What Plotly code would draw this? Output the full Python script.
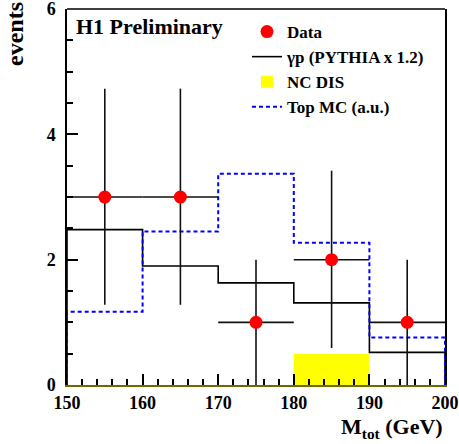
import plotly.graph_objects as go

# ---- data ----
bin_edges = [150, 160, 170, 180, 190, 200]
bin_centers = [155, 165, 175, 185, 195]
data_y = [3, 3, 1, 2, 1]
data_err_up = [1.73, 1.73, 1.0, 1.42, 1.0]
data_err_dn = [1.72, 1.72, 1.0, 1.41, 1.0]
data_xerr = [5, 5, 5, 5, 5]
gp_pythia = [2.48, 1.90, 1.63, 1.31, 0.52]
nc_dis = [0.0, 0.0, 0.0, 0.5, 0.0]
top_mc = [1.17, 2.45, 3.37, 2.27, 0.76]
x_tickvals = [150, 160, 170, 180, 190, 200]
x_ticktext = ["150", "160", "170", "180", "190", "200"]
y_tickvals = [0, 2, 4, 6]
y_ticktext = ["0", "2", "4", "6"]

FONT = "Liberation Serif"

def step(vals):
    xs = [bin_edges[0]] + bin_edges[:-1] + [bin_edges[-1], bin_edges[-1]]
    ys = [0] + list(vals) + [vals[-1], 0]
    return xs, ys

fig = go.Figure()

fig.add_trace(go.Bar(
    x=bin_centers, y=nc_dis, width=[10] * 5,
    marker=dict(color="#ffff00", line=dict(width=0)),
    name="NC DIS", legendrank=3,
))

gx, gy = step(gp_pythia)
fig.add_trace(go.Scatter(
    x=gx, y=gy, mode="lines", line=dict(color="black", width=1.6, shape="hv"),
    name="γp (PYTHIA x 1.2)", legendrank=2,
))

tx, ty = step(top_mc)
fig.add_trace(go.Scatter(
    x=tx, y=ty, mode="lines", line=dict(color="#0000ff", width=2, shape="hv", dash="4px,3px"),
    name="Top MC (a.u.)", legendrank=4,
))

fig.add_trace(go.Scatter(
    x=bin_centers, y=data_y, mode="markers",
    marker=dict(color="#ff0000", size=13, line=dict(width=0)),
    error_x=dict(type="data", array=data_xerr, color="#111111", thickness=1.6, width=0),
    error_y=dict(type="data", array=data_err_up, arrayminus=data_err_dn, symmetric=False,
                 color="#111111", thickness=1.6, width=0),
    name="Data", legendrank=1,
))

tickfont = dict(family=FONT, size=18, color="black", weight="bold")

fig.update_layout(
    width=459, height=444,
    margin=dict(l=67, r=14, t=9, b=59),
    plot_bgcolor="white", paper_bgcolor="white",
    barmode="overlay",
    font=dict(family=FONT, color="black", weight="bold"),
    showlegend=True,
    legend=dict(
        x=(247 - 67) / 378, y=1 - (14 - 9) / 376, xanchor="left", yanchor="top",
        bgcolor="rgba(0,0,0,0)", borderwidth=0,
        font=dict(family=FONT, size=17, color="black", weight="bold"),
        itemwidth=30, tracegroupgap=0,
    ),
    xaxis=dict(
        range=[150, 200], tickmode="array", tickvals=x_tickvals,
        ticktext=["<b>%s</b>" % t for t in x_ticktext],
        ticks="inside", ticklen=11, tickwidth=1.5, tickcolor="black",
        minor=dict(dtick=2, tick0=150, ticks="inside", ticklen=6, tickwidth=1.5, tickcolor="black", showgrid=False),
        showline=True, linecolor="#6b6b00", linewidth=2, mirror=False,
        showgrid=False, zeroline=False, automargin=False, ticklabeloverflow="allow",
        tickfont=tickfont,
    ),
    yaxis=dict(
        range=[0, 6.001], tickmode="array", tickvals=y_tickvals,
        ticktext=["<b>%s</b>" % t for t in y_ticktext],
        ticks="inside", ticklen=11, tickwidth=1.5, tickcolor="black",
        minor=dict(dtick=0.5, tick0=0, ticks="inside", ticklen=6, tickwidth=1.5, tickcolor="black", showgrid=False),
        showline=True, linecolor="black", linewidth=1.5, mirror=True,
        showgrid=False, zeroline=False, ticklabelstandoff=6, automargin=False,
        ticklabeloverflow="allow",
        tickfont=tickfont,
    ),
    shapes=[dict(type="line", xref="paper", yref="paper", x0=0, x1=1, y0=1, y1=1,
                 line=dict(color="black", width=1.5), layer="above")],
    annotations=[
        dict(text="<b>H1 Preliminary</b>", xref="paper", yref="paper",
             x=(74 - 67) / 378, y=1 - (27 - 9) / 376, xanchor="left", yanchor="middle",
             showarrow=False, font=dict(family=FONT, size=22, color="black")),
        dict(text="<b>M<sub>tot</sub> (GeV)</b>", xref="paper", yref="paper",
             x=1, y=-(428 - 385) / 376, xanchor="right", yanchor="middle",
             showarrow=False, font=dict(family=FONT, size=22, color="black")),
        dict(text="<b>events</b>", xref="paper", yref="paper", textangle=-90,
             x=-(67 - 15) / 378, y=1 + 9 / 376, xanchor="center", yanchor="top",
             showarrow=False, font=dict(family=FONT, size=24, color="black")),
    ],
)

fig.write_html("out.html")
